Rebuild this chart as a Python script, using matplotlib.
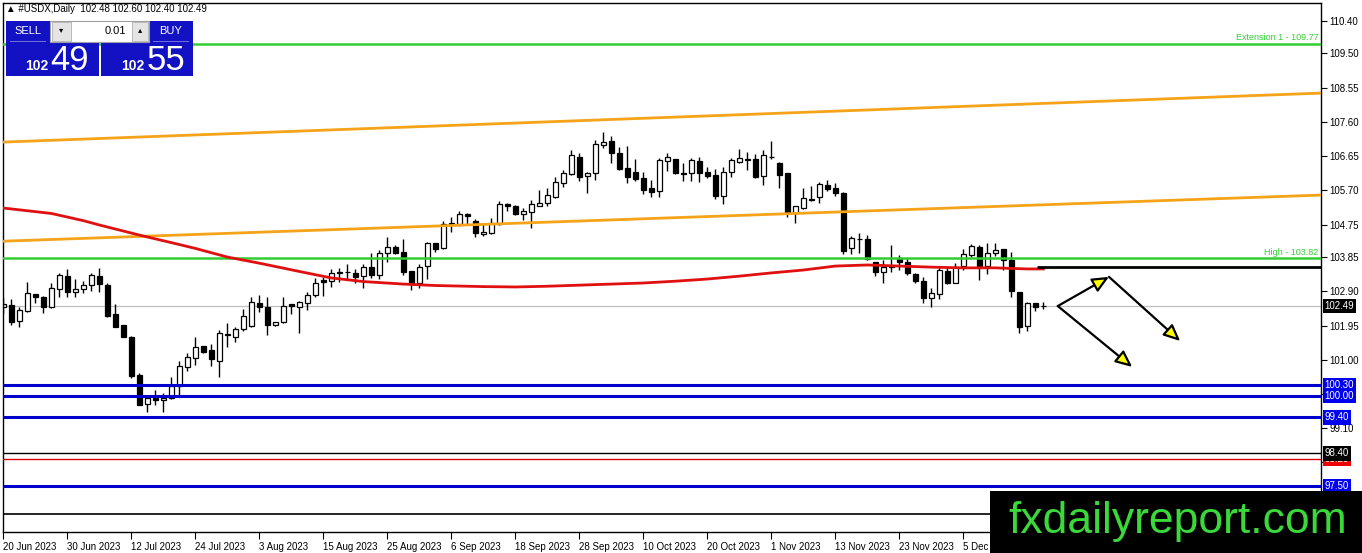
import numpy as np
import matplotlib.pyplot as plt
from matplotlib.patches import Rectangle, FancyArrowPatch
import matplotlib.transforms as mtransforms

plt.rcParams['font.family'] = ['Liberation Sans', 'DejaVu Sans']

W, H = 1362, 553

# Daily USDX candles (bar 0 = 20 Jun 2023)
opens = [102.45, 102.52, 102.08, 102.36, 102.82, 102.73, 102.47, 102.95, 103.32, 102.89,
         102.95, 103.07, 103.32, 103.07, 102.27, 101.96, 101.62, 100.58, 99.77, 99.93,
         99.87, 99.93, 100.27, 100.79, 101.04, 101.38, 101.27, 100.97, 101.70, 101.64,
         101.84, 101.94, 102.58, 102.45, 101.96, 102.06, 102.54, 102.45, 102.58, 102.80,
         103.21, 103.19, 103.42, 103.44, 103.40, 103.32, 103.58, 103.35, 103.95, 104.14,
         103.99, 103.45, 103.12, 103.60, 104.23, 104.09, 104.77, 104.78, 105.04, 104.86,
         104.48, 104.51, 104.77, 105.32, 105.27, 105.04, 105.11, 105.28, 105.36, 105.53,
         105.90, 106.15, 106.64, 106.10, 106.17, 106.97, 107.08, 106.75, 106.31, 106.20,
         106.03, 105.76, 105.69, 106.52, 106.57, 106.19, 106.17, 106.52, 106.22, 106.13,
         105.54, 106.22, 106.50, 106.57, 106.58, 106.10, 106.63, 106.47, 106.18, 105.08,
         105.20, 105.46, 105.51, 105.85, 105.76, 105.62, 104.09, 104.35, 104.34, 103.72,
         103.44, 103.58, 103.81, 103.72, 103.38, 103.19, 102.71, 102.82, 103.46, 103.14,
         103.60, 103.91, 104.12, 103.60, 103.95, 104.06, 103.77, 102.87, 101.94, 102.57,
         102.48]
highs = [102.75, 102.68, 102.47, 103.17, 102.82, 102.77, 103.14, 103.42, 103.51, 103.23,
         103.19, 103.42, 103.54, 103.14, 102.55, 101.96, 101.66, 100.62, 100.02, 100.16,
         100.09, 100.53, 100.97, 101.20, 101.62, 101.38, 101.44, 101.83, 102.03, 101.90,
         102.40, 102.75, 102.80, 102.73, 102.06, 102.75, 102.55, 102.64, 102.89, 103.26,
         103.29, 103.51, 103.56, 103.66, 103.51, 103.67, 103.95, 104.04, 104.41, 104.18,
         104.34, 103.45, 103.66, 104.28, 104.25, 104.86, 104.97, 105.14, 105.06, 104.90,
         104.80, 104.92, 105.41, 105.36, 105.29, 105.20, 105.42, 105.71, 105.76, 106.06,
         106.27, 106.82, 106.75, 106.22, 107.10, 107.33, 107.21, 106.91, 106.93, 106.56,
         106.22, 105.99, 106.59, 106.75, 106.57, 106.47, 106.59, 106.64, 106.36, 106.28,
         106.36, 106.59, 106.84, 106.77, 106.71, 106.82, 107.08, 106.50, 106.18, 105.27,
         105.76, 105.82, 105.94, 105.99, 105.91, 105.66, 104.43, 104.53, 104.46, 103.72,
         103.77, 104.18, 103.91, 103.81, 103.40, 103.31, 102.98, 103.58, 103.58, 103.69,
         104.06, 104.21, 104.18, 104.23, 104.23, 104.06, 104.00, 102.87, 102.61, 102.58,
         102.60]
lows = [102.29, 101.96, 101.90, 102.33, 102.58, 102.29, 102.43, 102.75, 102.73, 102.73,
        102.84, 102.92, 102.89, 102.20, 101.90, 101.64, 100.48, 99.74, 99.56, 99.74,
        99.56, 99.90, 100.02, 100.70, 100.85, 101.20, 100.83, 100.53, 101.35, 101.50,
        101.81, 101.92, 102.33, 101.69, 101.94, 102.03, 102.27, 101.75, 102.38, 102.73,
        102.77, 103.03, 103.17, 103.21, 103.12, 102.98, 103.26, 103.23, 103.72, 103.93,
        103.35, 102.94, 102.98, 103.23, 103.99, 104.06, 104.55, 104.71, 104.74, 104.40,
        104.43, 104.49, 104.74, 105.14, 105.02, 104.88, 104.65, 105.27, 105.27, 105.48,
        105.80, 106.13, 105.97, 105.62, 105.99, 106.87, 106.47, 106.27, 105.91, 105.96,
        105.60, 105.53, 105.51, 106.25, 106.15, 105.97, 105.97, 105.94, 106.03, 105.47,
        105.32, 106.08, 106.45, 106.27, 106.03, 105.85, 106.56, 105.77, 104.95, 104.80,
        105.17, 105.41, 105.34, 105.69, 105.54, 103.93, 103.93, 103.95, 103.77, 103.32,
        103.14, 103.44, 103.49, 103.35, 103.14, 102.58, 102.45, 102.68, 103.10, 103.12,
        103.49, 103.84, 103.21, 103.38, 103.88, 103.49, 102.75, 101.73, 101.81, 102.34,
        102.40]
closes = [102.54, 102.06, 102.38, 102.84, 102.73, 102.47, 102.98, 103.35, 102.89, 102.95,
          103.07, 103.35, 103.09, 102.21, 101.92, 101.64, 100.55, 99.74, 99.93, 99.87,
          99.93, 100.27, 100.83, 101.07, 101.34, 101.22, 101.01, 101.73, 101.69, 101.84,
          102.21, 102.61, 102.45, 101.96, 102.04, 102.49, 102.49, 102.61, 102.81, 103.12,
          103.16, 103.42, 103.44, 103.43, 103.30, 103.56, 103.35, 103.95, 104.14, 103.97,
          103.44, 103.14, 103.58, 104.23, 104.06, 104.77, 104.80, 105.04, 105.00, 104.51,
          104.54, 104.79, 105.32, 105.27, 105.04, 105.14, 105.32, 105.34, 105.56, 105.94,
          106.17, 106.68, 106.08, 106.17, 106.99, 107.04, 106.75, 106.30, 106.06, 106.01,
          105.71, 105.66, 106.54, 106.62, 106.17, 106.15, 106.54, 106.19, 106.10, 105.54,
          106.22, 106.54, 106.60, 106.53, 106.08, 106.68, 106.62, 106.13, 105.07, 105.26,
          105.48, 105.42, 105.88, 105.73, 105.64, 104.03, 104.37, 104.34, 103.79, 103.44,
          103.58, 103.59, 103.72, 103.40, 103.19, 102.71, 102.84, 103.49, 103.14, 103.58,
          103.93, 104.16, 103.60, 103.95, 104.05, 103.77, 102.92, 101.92, 102.57, 102.47,
          102.49]

# red moving average, sampled along the curve
ma_bars = [0, 6, 10, 12, 17, 21, 24, 28, 32, 37, 41, 45, 50, 54, 60, 64, 68, 72, 76,
           80, 84, 88, 92, 96, 100, 104, 108, 112, 116, 120, 124, 128, 130]
ma_values = [105.21, 105.06, 104.86, 104.74, 104.46, 104.25, 104.09, 103.85, 103.68,
             103.45, 103.27, 103.17, 103.10, 103.06, 103.03, 103.02, 103.04, 103.07,
             103.10, 103.13, 103.18, 103.24, 103.32, 103.41, 103.49, 103.60, 103.63,
             103.60, 103.57, 103.55, 103.55, 103.52, 103.52]

date_labels = ['20 Jun 2023', '30 Jun 2023', '12 Jul 2023', '24 Jul 2023', '3 Aug 2023',
               '15 Aug 2023', '25 Aug 2023', '6 Sep 2023', '18 Sep 2023', '28 Sep 2023',
               '10 Oct 2023', '20 Oct 2023', '1 Nov 2023', '13 Nov 2023', '23 Nov 2023',
               '5 Dec 2023']

price_ticks = [110.40, 109.50, 108.55, 107.60, 106.65, 105.70, 104.75, 103.85, 102.90,
               101.95, 101.00, 100.05, 99.10, 98.15, 97.20]
hidden_ticks = [100.05, 98.15, 97.20]  # covered by price boxes / watermark

# orange channel, value at left and right edge of the chart
upper_channel = [107.04, 108.40]
lower_channel = [104.29, 105.57]

# horizontal levels
level_values = [109.77, 103.82, 100.30, 100.00, 99.40, 98.40, 98.25, 97.50, 96.72]
level_colors = ['#32cd32', '#32cd32', '#0000cc', '#0000cc', '#0000cc', 'black', '#dd0000',
                '#0000cc', 'black']
level_widths = [1.8, 1.8, 2.2, 2.2, 2.2, 1.0, 1.0, 2.2, 1.2]

# price boxes on the right scale
box_values = [102.49, 100.30, 100.00, 99.40, 98.25, 98.40, 97.50]
box_colors = ['black', '#0000ee', '#0000ee', '#0000ee', '#ee0000', 'black', '#0000ee']

bid = 102.49
resistance = 103.57
header = '\u25b2 #USDX,Daily  102.48 102.60 102.40 102.49'

# forecast arrows: start, corner, end of upper path, end of lower path
arrow_x = [131.8, 138.2, 147.1, 141.1]
arrow_y = [102.49, 103.30, 101.52, 100.80]

fig = plt.figure(figsize=(W / 100, H / 100), dpi=100)
ax = fig.add_axes([3 / W, (H - 532) / H, (1321 - 3) / W, (532 - 3) / H])
x0, x1 = -0.04, 164.7
ax.set_xlim(x0, x1)
ax.set_ylim(96.22, 110.90)


def px_rect(x, y, w, h, **kw):
    fig.add_artist(Rectangle((x / W, 1 - (y + h) / H), w / W, h / H,
                             transform=fig.transFigure, **kw))


def px_text(x, y, s, **kw):
    fig.text(x / W, 1 - y / H, s, **kw)


# candles
o = np.array(opens)
c = np.array(closes)
xs = np.arange(len(o))
up = c >= o
ax.vlines(xs, lows, highs, color='black', lw=1, zorder=2)
ax.bar(xs, np.maximum(np.abs(c - o), 0.012), bottom=np.minimum(o, c), width=0.7,
       color=np.where(up, 'white', 'black'), edgecolor='black', linewidth=0.9, zorder=2.2)

# lines on the chart
ax.axhline(bid, color='#c0c0c0', lw=0.9, zorder=1.5)
for v, col, lw in zip(level_values, level_colors, level_widths):
    ax.axhline(v, color=col, lw=lw, zorder=3)
ax.plot([x0, x1], upper_channel, color='#f5a318', lw=2, zorder=3)
ax.plot([x0, x1], lower_channel, color='#f5a318', lw=2, zorder=3)
ax.plot(ma_bars, ma_values, color='#e01010', lw=2, zorder=3)
ax.hlines(resistance, 129.2, x1, color='black', lw=2, zorder=3)

ax.text(x1 - 0.3, level_values[0] + 0.04, 'Extension 1 - 109.77', ha='right', va='bottom',
        color='#32cd32', fontsize=6.5, zorder=4)
ax.text(x1 - 0.3, level_values[1] + 0.04, 'High - 103.82', ha='right', va='bottom',
        color='#32cd32', fontsize=6.5, zorder=4)

# arrows
for a, b in [(0, 1), (1, 2), (0, 3)]:
    ax.add_patch(FancyArrowPatch((arrow_x[a], arrow_y[a]), (arrow_x[b], arrow_y[b]),
                                 arrowstyle='-|>,head_length=10,head_width=4.5',
                                 shrinkA=0, shrinkB=0, fc='#ffff00', ec='black',
                                 lw=1.6, zorder=5))

# axes look
for s in ax.spines.values():
    s.set_color('black')
    s.set_linewidth(1)
ax.yaxis.tick_right()
ax.set_yticks(price_ticks)
ax.set_yticklabels(['' if v in hidden_ticks else '%.2f' % v for v in price_ticks])
ax.tick_params(axis='y', length=4, width=0.8, pad=2, labelsize=7, colors='black')
ax.set_xticks(np.arange(0, 8 * len(date_labels), 8))
ax.set_xticklabels(date_labels, ha='left')
ax.tick_params(axis='x', length=5, width=0.8, pad=2, labelsize=7, colors='black')

trans = mtransforms.blended_transform_factory(ax.transAxes, ax.transData)
for v, col in zip(box_values, box_colors):
    ax.text(1.0028, v, '%.2f' % v, transform=trans, ha='left', va='center', color='white',
            fontsize=7, clip_on=False, zorder=6,
            bbox=dict(boxstyle='square,pad=0.22', fc=col, ec='none'))

# header and one-click trading panel
px_text(6, 9, header, fontsize=7, va='center', ha='left')
blue = '#1212c4'
px_rect(6, 21, 44, 21, fc=blue, ec='none', zorder=10)
px_rect(6, 42, 93, 34, fc=blue, ec='none', zorder=10)
px_rect(149, 21, 44, 21, fc=blue, ec='none', zorder=10)
px_rect(101, 42, 92, 34, fc=blue, ec='none', zorder=10)
px_rect(50, 21, 99, 21, fc='white', ec='#a0a0a0', lw=0.8, zorder=10)
px_rect(52, 22, 19, 19, fc='#e4e4e4', ec='#b0b0b0', lw=0.6, zorder=11)
px_rect(132, 22, 16, 19, fc='#e4e4e4', ec='#b0b0b0', lw=0.6, zorder=11)
px_rect(10, 41, 36, 1, fc='#6f6fe0', ec='none', zorder=11)
px_rect(153, 41, 36, 1, fc='#6f6fe0', ec='none', zorder=11)
px_text(28, 31, 'SELL', color='white', fontsize=8, ha='center', va='center', zorder=12)
px_text(171, 31, 'BUY', color='white', fontsize=8, ha='center', va='center', zorder=12)
px_text(61, 31, '\u25be', color='black', fontsize=6, ha='center', va='center', zorder=12)
px_text(140, 31, '\u25b4', color='black', fontsize=6, ha='center', va='center', zorder=12)
px_text(126, 31, '0.01', color='black', fontsize=8, ha='right', va='center', zorder=12)
px_text(48, 70, '102', color='white', fontsize=10, fontweight='bold', ha='right',
        va='baseline', zorder=12)
px_text(50, 70, '49', color='white', fontsize=25, ha='left', va='baseline', zorder=12)
px_text(144, 70, '102', color='white', fontsize=10, fontweight='bold', ha='right',
        va='baseline', zorder=12)
px_text(147, 70, '55', color='white', fontsize=25, ha='left', va='baseline', zorder=12)

# watermark box
px_rect(990, 491, 372, 62, fc='black', ec='none', zorder=20)
px_text(1178, 521, 'fxdailyreport.com', color='#3ad83a', fontsize=32, ha='center',
        va='center', zorder=21)

fig.savefig('out.png', dpi=100)
